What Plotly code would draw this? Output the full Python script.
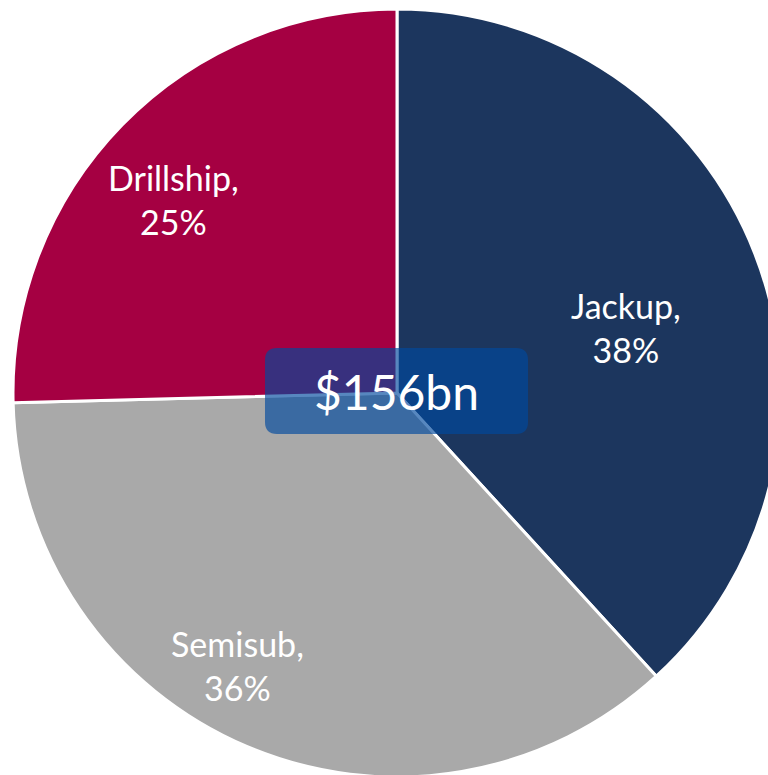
import math
import plotly.graph_objects as go

# Rig-type split of the $156bn total
categories = ["Jackup", "Semisub", "Drillship"]
values = [38.2, 36.4, 25.4]
colors = ["#1c365e", "#a9a9a9", "#a50042"]
total_label = "$156bn"

# Label placement: fraction of radius and angular nudge (degrees) per slice
label_radius = [0.62, 0.822, 0.77]
label_angle_shift = [5.2, 7.4, -3.5]

W, H = 794, 786
R = 384
CX, CY = W / 2, H / 2

fig = go.Figure(
    go.Pie(
        labels=categories,
        values=values,
        sort=False,
        direction="clockwise",
        rotation=0,
        marker=dict(colors=colors, line=dict(color="white", width=3)),
        textinfo="none",
        hoverinfo="label+percent",
        domain=dict(x=[(CX - R) / W, (CX + R) / W],
                    y=[(CY - R) / H, (CY + R) / H]),
        showlegend=False,
    )
)

# Slice labels, placed along each slice's bisector
total = sum(values)
start = 0.0
for name, v, rf, shift in zip(categories, values, label_radius, label_angle_shift):
    frac = v / total
    theta = math.radians((start + frac / 2) * 360 + shift)
    start += frac
    px = CX + rf * R * math.sin(theta)
    py = CY - rf * R * math.cos(theta)
    fig.add_annotation(
        x=px / W,
        y=1 - py / H,
        xref="paper",
        yref="paper",
        text=f"{name},<br>{round(frac * 100)}%",
        showarrow=False,
        font=dict(family="Lato", size=34, color="white"),
        xanchor="center",
        yanchor="middle",
        align="center",
    )

# Rounded translucent panel behind the total
x0, x1, y0, y1, r = 265, 528, 348, 434, 12
path = (
    f"M {x0 + r},{y0} L {x1 - r},{y0} Q {x1},{y0} {x1},{y0 + r} "
    f"L {x1},{y1 - r} Q {x1},{y1} {x1 - r},{y1} "
    f"L {x0 + r},{y1} Q {x0},{y1} {x0},{y1 - r} "
    f"L {x0},{y0 + r} Q {x0},{y0} {x0 + r},{y0} Z"
)


def to_paper(p):
    out = []
    for tok in p.split():
        if "," in tok:
            a, b = tok.split(",")
            out.append(f"{float(a) / W:.5f},{1 - float(b) / H:.5f}")
        else:
            out.append(tok)
    return " ".join(out)


fig.add_shape(
    type="path",
    xref="paper",
    yref="paper",
    path=to_paper(path),
    fillcolor="rgba(0,73,158,0.66)",
    line=dict(width=0),
    layer="above",
)
fig.add_annotation(
    x=(x0 + x1) / 2 / W,
    y=1 - (y0 + y1) / 2 / H,
    xref="paper",
    yref="paper",
    text=total_label,
    showarrow=False,
    font=dict(family="Lato", size=48, color="white"),
    xanchor="center",
    yanchor="middle",
)

fig.update_layout(
    width=W,
    height=H,
    margin=dict(l=0, r=0, t=0, b=0),
    paper_bgcolor="white",
    plot_bgcolor="white",
)

fig.write_html("out.html")
